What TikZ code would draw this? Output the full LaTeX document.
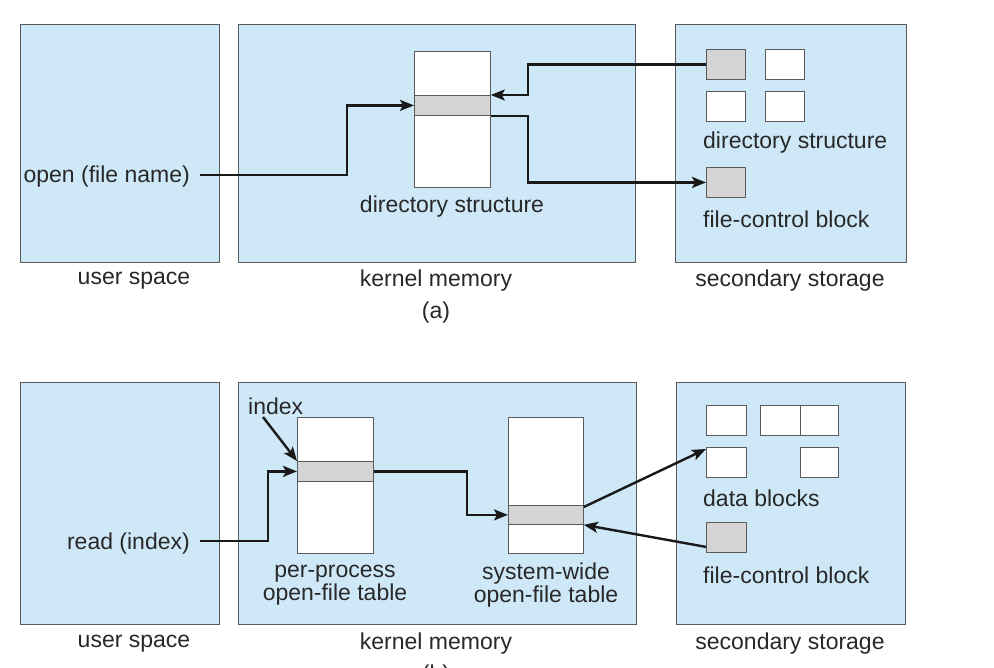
\documentclass[tikz,border=0pt]{standalone}
\usepackage{fontspec}
\setmainfont{Liberation Sans}
\usetikzlibrary{arrows.meta,calc}
\definecolor{panelblue}{RGB}{207,232,248}
\definecolor{edgegray}{RGB}{90,90,90}
\definecolor{bandgray}{RGB}{212,212,212}
\definecolor{inkgray}{RGB}{40,40,40}
\begin{document}
\begin{tikzpicture}[x=1pt,y=-1pt,
  panel/.style={draw=edgegray, fill=panelblue, line width=0.9pt, inner sep=0pt, anchor=north west},
  tablebox/.style={draw=edgegray, fill=white, line width=0.8pt, inner sep=0pt, anchor=north west},
  band/.style={draw=edgegray, fill=bandgray, line width=0.8pt, inner sep=0pt, anchor=north west},
  blk/.style={draw=edgegray, fill=white, line width=0.9pt, inner sep=0pt, anchor=north west,
              minimum width=39pt, minimum height=30pt},
  gblk/.style={blk, fill=bandgray},
  lbl/.style={font=\fontsize{23}{23}\selectfont, text=inkgray, inner sep=0pt},
  arr/.style={draw=black!90, line width=2.4pt, -{Stealth[length=14pt,width=11pt,inset=3pt]}}]

% page frame
\useasboundingbox (0,0) rectangle (994,668);
\fill[white] (0,0) rectangle (994,668);

% ---------------- (a) open ----------------
\node[panel, minimum width=199pt, minimum height=238pt] (usA) at (20,24) {};
\node[panel, minimum width=397pt, minimum height=238pt] (kmA) at (238,24) {};
\node[panel, minimum width=231pt, minimum height=238pt] (ssA) at (675,24) {};

\node[tablebox, minimum width=76pt, minimum height=136pt] (tblA) at (414,51) {};
\node[band, minimum width=76pt, minimum height=20pt] (bandA) at (414,95) {};
\node[lbl] (tblAlbl) at (452,207) {directory structure};

\node[lbl, anchor=east] (open) at (190,177) {open (file name)};

\node[gblk] (dA1) at (706,49) {};
\node[blk] (dA2) at (765,49) {};
\node[blk] (dA3) at (706,91) {};
\node[blk] (dA4) at (765,91) {};
\node[lbl, anchor=west] (dirlbl) at (703,143) {directory structure};
\node[gblk] (fcbA) at (706,167) {};
\node[lbl, anchor=west] (fcbAlbl) at (703,219) {file-control block};

\draw[arr] (190+10,175) -| ([xshift=-67pt]bandA.west) -- (bandA.west);
\draw[arr] (dA1.west) -| ([xshift=37pt]bandA.north east) -- (bandA.north east);
\draw[arr] (bandA.south east) -- ++(37,0) |- (fcbA.west);

\node[lbl] (usAlbl) at (134,281) {user space};
\node[lbl] (kmAlbl) at (436,281) {kernel memory};
\node[lbl] (ssAlbl) at (790,281) {secondary storage};
\node[lbl] (capA) at (436,313) {(a)};

% ---------------- (b) read ----------------
\node[panel, minimum width=199pt, minimum height=242pt] (usB) at (20,382) {};
\node[panel, minimum width=398pt, minimum height=242pt] (kmB) at (238,382) {};
\node[panel, minimum width=229pt, minimum height=242pt] (ssB) at (676,382) {};

\node[tablebox, minimum width=76pt, minimum height=136pt] (ppt) at (297,417) {};
\node[band, minimum width=76pt, minimum height=20pt] (bandP) at (297,461) {};
\node[tablebox, minimum width=75pt, minimum height=136pt] (swt) at (508,417) {};
\node[band, minimum width=75pt, minimum height=19pt] (bandS) at (508,505) {};

\node[lbl, align=center] (pptlbl) at (335,585) {per-process\\open-file table};
\node[lbl, align=center] (swtlbl) at (546,585) {system-wide\\open-file table};

\node[lbl, anchor=west] (idx) at (248,406) {index};
\node[lbl, anchor=east] (read) at (190,544) {read (index)};

\node[blk, minimum width=40pt] (db1) at (706,405) {};
\node[blk, minimum width=40pt] (db2) at (760,405) {};
\node[blk, minimum width=38pt] (db3) at (800,405) {};
\node[blk, minimum width=40pt] (db4) at (706,447) {};
\node[blk, minimum width=38pt] (db5) at (800,447) {};
\node[lbl, anchor=west] (dblbl) at (703,498) {data blocks};
\node[gblk, minimum width=40pt] (fcbB) at (706,522) {};
\node[lbl, anchor=west] (fcbBlbl) at (703,575) {file-control block};

\draw[arr] (263,417) -- (bandP.north west);
\draw[arr] (190+10,541) -| ([xshift=-29pt]bandP.west) -- (bandP.west);
\draw[arr] (bandP.east) -| ([xshift=-41pt]bandS.west) -- (bandS.west);
\draw[arr] ([yshift=-2pt]bandS.north east) -- ([yshift=-2pt]db4.north west);
\draw[arr] ([yshift=6pt]fcbB.south west) -- (bandS.south east);

\node[lbl] (usBlbl) at (134,644) {user space};
\node[lbl] (kmBlbl) at (436,644) {kernel memory};
\node[lbl] (ssBlbl) at (790,644) {secondary storage};
\node[lbl] (capB) at (436,676) {(b)};
\end{tikzpicture}
\end{document}
